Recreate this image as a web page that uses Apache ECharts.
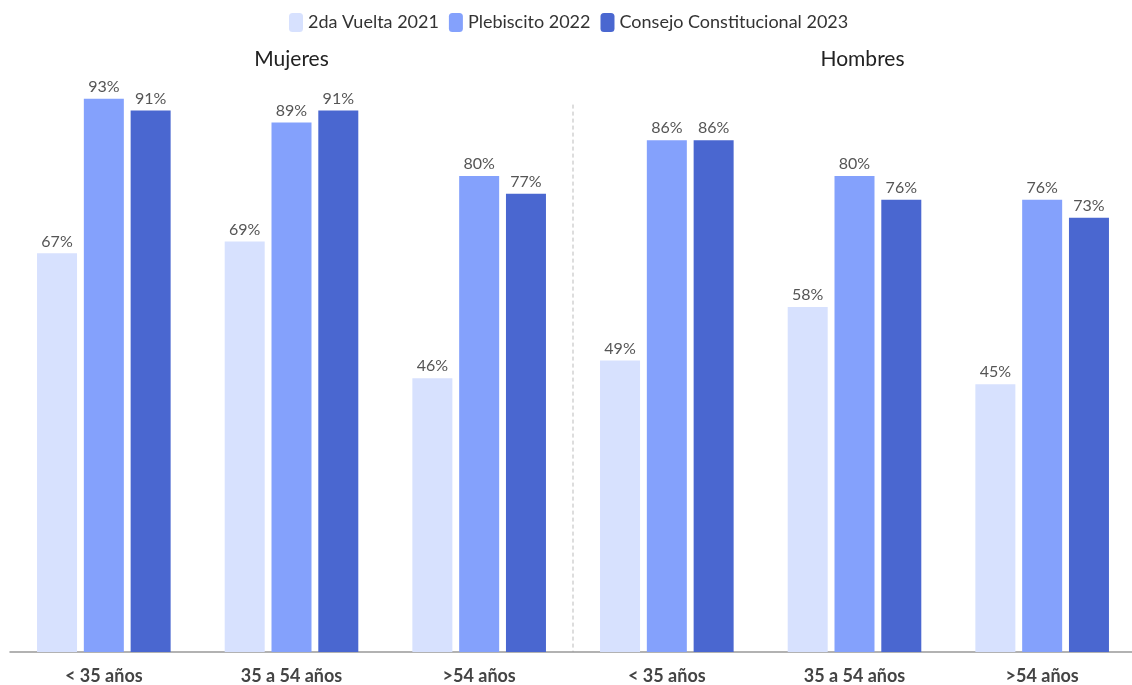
<!DOCTYPE html>
<html>
<head>
<meta charset="utf-8">
<script src="https://cdn.jsdelivr.net/npm/echarts@6/dist/echarts.min.js"></script>
<style>
  html, body { margin: 0; padding: 0; background: #fff; overflow: hidden; }
  #main { width: 1136px; height: 685px; }
</style>
</head>
<body>
<div id="main"></div>
<script>
// categories: 3 age groups for women, then 3 for men
var categories = ['M1', 'M2', 'M3', 'H1', 'H2', 'H3']
var ageLabels = ['< 35 años', '35 a 54 años', '>54 años', '< 35 años', '35 a 54 años', '>54 años']
var groupTitles = ['Mujeres', 'Hombres']

var seriesNames = ['2da Vuelta 2021', 'Plebiscito 2022', 'Consejo Constitucional 2023']
var vuelta2021 = [67, 69, 46, 49, 58, 45]
var plebiscito2022 = [93, 89, 80, 86, 80, 76]
var consejo2023 = [91, 91, 77, 86, 76, 73]
var colors = ['#d7e1fe', '#84a1fc', '#4a67d0']

var font = 'Lato'
var myChart = echarts.init(document.getElementById('main'))

function barSeries(name, data, color) {
  return {
    name: name,
    type: 'bar',
    data: data,
    barWidth: 40,
    barGap: '17%',
    itemStyle: { color: color },
    label: {
      show: true,
      position: 'top',
      distance: 4,
      formatter: '{c}%',
      fontFamily: font,
      fontSize: 16,
      color: '#555'
    }
  }
}

var option = {
  color: colors,
  animation: false,
  legend: {
    top: 8,
    left: 284,
    itemWidth: 14,
    itemHeight: 19,
    itemGap: 10,
    icon: 'roundRect',
    textStyle: { fontFamily: font, fontSize: 18, color: '#333' },
    data: seriesNames
  },
  grid: { left: 10, right: 0, top: 57, bottom: 31, containLabel: false },
  xAxis: {
    type: 'category',
    data: categories,
    axisLine: { lineStyle: { color: '#999', width: 1.5 } },
    axisTick: { alignWithLabel: true, length: 8, lineStyle: { color: '#999', width: 1.5 } },
    axisLabel: {
      margin: 15,
      fontFamily: font,
      fontSize: 18,
      fontWeight: 'bold',
      color: '#444',
      formatter: function (v, i) { return ageLabels[i] }
    }
  },
  yAxis: { type: 'value', min: 0, max: 100, show: false, splitLine: { show: false } },
  series: [
    barSeries(seriesNames[0], vuelta2021, colors[0]),
    barSeries(seriesNames[1], plebiscito2022, colors[1]),
    barSeries(seriesNames[2], consejo2023, colors[2])
  ]
}

myChart.setOption(option)

// group titles and divider placed from the axis scale
var p0 = myChart.convertToPixel({ xAxisIndex: 0 }, categories[1])
var p1 = myChart.convertToPixel({ xAxisIndex: 0 }, categories[4])
var pa = myChart.convertToPixel({ xAxisIndex: 0 }, categories[2])
var pb = myChart.convertToPixel({ xAxisIndex: 0 }, categories[3])
var yTop = myChart.convertToPixel({ yAxisIndex: 0 }, 92)
var yBottom = myChart.convertToPixel({ yAxisIndex: 0 }, 0)

myChart.setOption({
  graphic: [
    {
      type: 'text', x: p0, y: 59,
      style: { text: groupTitles[0], fontFamily: font, fontSize: 21, fill: '#222', align: 'center', verticalAlign: 'middle' }
    },
    {
      type: 'text', x: p1 + 8, y: 59,
      style: { text: groupTitles[1], fontFamily: font, fontSize: 21, fill: '#222', align: 'center', verticalAlign: 'middle' }
    },
    {
      type: 'line',
      shape: { x1: (pa + pb) / 2, y1: yTop, x2: (pa + pb) / 2, y2: yBottom },
      style: { stroke: '#bbb', lineWidth: 1, lineDash: [4, 3] }
    }
  ]
})
</script>
</body>
</html>
